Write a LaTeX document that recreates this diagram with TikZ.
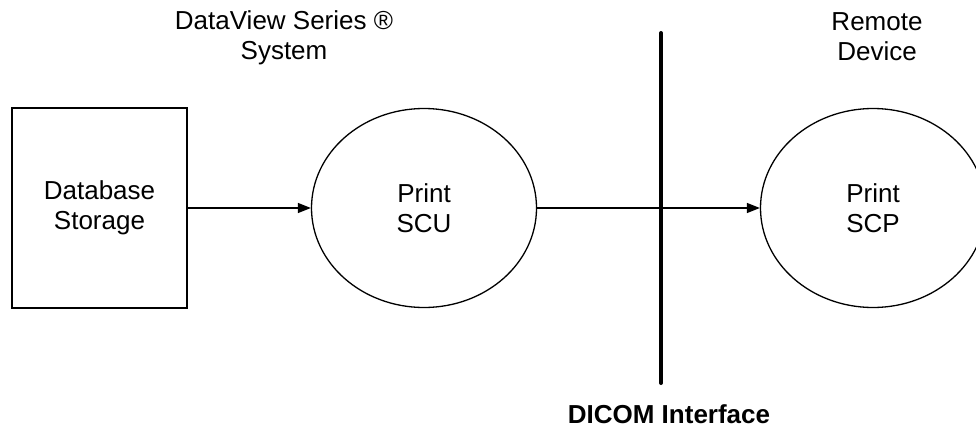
\documentclass[tikz,border=0pt]{standalone}
\usepackage{fontspec}
\setmainfont{Liberation Sans}
\usetikzlibrary{arrows.meta,shapes.geometric}
\begin{document}
\begin{tikzpicture}[x=1pt,y=1pt,
  lbl/.style={align=center,font=\fontsize{26}{30}\selectfont,inner sep=0pt},
  boxnode/.style={draw,line width=1.3pt,minimum width=175pt,minimum height=200pt,inner sep=0pt,lbl},
  ovalnode/.style={draw,ellipse,line width=1.3pt,minimum width=225pt,minimum height=199pt,inner sep=0pt,lbl},
  flow/.style={line width=1.2pt,-{Triangle[length=13pt,width=10pt]}},
  iface/.style={line width=4pt,line cap=round}]
\useasboundingbox (0,0) rectangle (976,-428);
\node[boxnode] (db) at (99.5,-208) {Database\\Storage};
\node[ovalnode] (scu) at (424,-208) {Print\\SCU};
\node[ovalnode] (scp) at (873,-208) {Print\\SCP};
\coordinate (itop) at (661,-33);
\coordinate (ibot) at (661,-383);
\draw[iface] (itop) -- (ibot);
\draw[flow] (db) -- (scu);
\draw[flow] (scu) -- (scp);
\node[lbl] (sys) at (284,-38) {DataView Series ®\\System};
\node[lbl] (rem) at (877,-37) {Remote\\Device};
\node[lbl,font=\fontsize{26}{30}\selectfont\bfseries] (dicom) at (669,-414) {DICOM Interface};
\end{tikzpicture}
\end{document}
